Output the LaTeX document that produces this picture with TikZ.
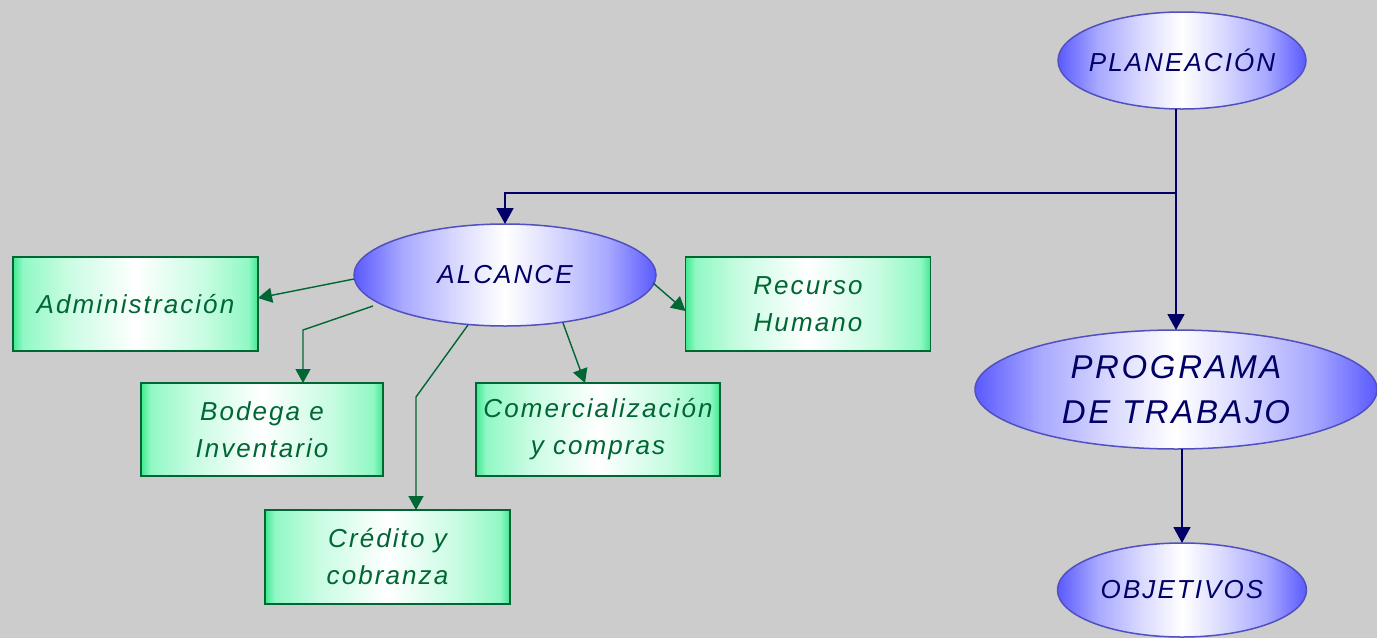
\documentclass[tikz,border=0pt]{standalone}
\usepackage{fontspec}
\setmainfont{Liberation Sans}
\newfontfamily\dfont{Liberation Sans}[LetterSpace=8]
\usetikzlibrary{shapes.geometric,arrows.meta,calc}
\definecolor{bg}{HTML}{CCCCCC}
\definecolor{eb}{HTML}{5A5AFF}
\definecolor{ebb}{HTML}{A8A8FF}
\definecolor{ebc}{HTML}{DADAFF}
\definecolor{eline}{HTML}{5050C0}
\definecolor{navy}{HTML}{000066}
\definecolor{gb}{HTML}{40E890}
\definecolor{gbb}{HTML}{90F8C4}
\definecolor{gbc}{HTML}{C8FCE2}
\definecolor{gline}{HTML}{006633}
\pgfdeclarehorizontalshading{ellsh}{100bp}{color(0bp)=(eb); color(25bp)=(eb); color(33bp)=(ebb); color(42bp)=(ebc); color(50bp)=(white); color(58bp)=(ebc); color(67bp)=(ebb); color(75bp)=(eb); color(100bp)=(eb)}
\pgfdeclarehorizontalshading{boxsh}{100bp}{color(0bp)=(gb); color(25bp)=(gb); color(27bp)=(gbb); color(36bp)=(gbc); color(50bp)=(white); color(64bp)=(gbc); color(73bp)=(gbb); color(75bp)=(gb); color(100bp)=(gb)}
\tikzset{
  ell/.style={ellipse, draw=eline, line width=1.5pt, shade, shading=ellsh, inner sep=0pt, outer sep=0pt, text=navy, font=\dfont\itshape\fontsize{26}{30}\selectfont},
  gbox/.style={rectangle, draw=gline, line width=1.5pt, shade, shading=boxsh, minimum width=245pt, minimum height=94pt, inner sep=0pt, outer sep=0pt, text=gline, align=center, font=\dfont\itshape\fontsize{26}{37}\selectfont},
  barrow/.style={draw=navy, line width=1.8pt, -{Triangle[width=17pt,length=16pt]}},
  garrow/.style={draw=gline, line width=1.4pt, -{Triangle[width=15pt,length=14pt]}}
}
\begin{document}
\begin{tikzpicture}[x=1pt,y=-1pt]
\useasboundingbox (0,0) rectangle (1377,638);
\fill[bg] (0,0) rectangle (1377,638);
% ellipses
\node[ell, minimum width=248pt, minimum height=97pt] (plan) at (1182,60.5) {\makebox[0pt]{PLANEACIÓN}};
\node[ell, minimum width=302pt, minimum height=102pt] (alc) at (505,275) {\makebox[0pt]{ALCANCE}};
\node[ell, minimum width=402pt, minimum height=119pt, align=center, font=\dfont\itshape\fontsize{33}{45}\selectfont] (prog) at (1176,389.5) {PROGRAMA\\DE TRABAJO};
\node[ell, minimum width=249pt, minimum height=94pt] (obj) at (1182,590) {\makebox[0pt]{OBJETIVOS}};
% boxes
\node[gbox] (adm) at (135.5,304) {Administración};
\node[gbox, minimum width=242pt, minimum height=93pt] (bod) at (262,429.5) {Bodega e\\Inventario};
\node[gbox] (cre) at (387.5,557) {Crédito y\\cobranza};
\node[gbox, minimum width=244pt, minimum height=93pt] (com) at (598,429.5) {Comercialización\\y compras};
\node[gbox] (rec) at (808,304) {Recurso\\Humano};
% blue connectors
\coordinate (j) at (1176,193);
\draw[barrow] (plan.south -| prog.north) -- (prog.north);
\draw[barrow] (j) -| (alc.north);
\draw[barrow] (prog.south -| obj.north) -- (obj.north);
% green connectors
\draw[garrow] ($(alc.west)+(0,4)$) -- ($(adm.east)+(0,-6)$);
\draw[garrow] ($(alc.center)+(-132,31)$) -- ($(bod.north)+(41,-53)$) -- ($(bod.north)+(41,0)$);
\draw[garrow] ($(alc.center)+(-37,50)$) -- ($(cre.north)+(28.5,-113)$) -- ($(cre.north)+(28.5,0)$);
\draw[garrow] ($(alc.center)+(58,48)$) -- ($(com.north)+(-13,0)$);
\draw[garrow] ($(alc.center)+(148,8)$) -- ($(rec.west)+(0,7)$);
\end{tikzpicture}
\end{document}
